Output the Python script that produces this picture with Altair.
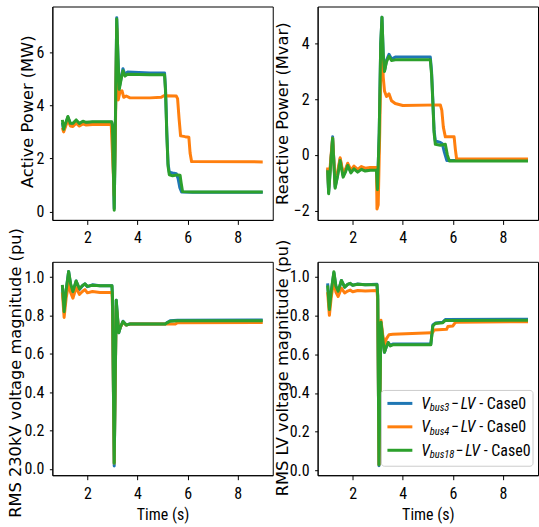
import altair as alt
import pandas as pd

# ---------------------------------------------------------------- data
TIME_TICKS = [2, 4, 6, 8]
COLORS = ["#1f77b4", "#ff7f0e", "#2ca02c"]          # bus3, bus4, bus18
LEGEND_SUBS = ["bus3", "bus4", "bus18"]

# Active power (MW)
p3_t = [1.0, 1.05, 1.12, 1.22, 1.32, 1.42, 1.55, 1.68, 1.82, 1.95, 2.2, 2.97, 3.0, 3.07, 3.12, 3.17, 3.22, 3.27, 3.35, 3.42,
        3.5, 3.6, 4.5, 5.08, 5.12, 5.17, 5.22, 5.27, 5.4, 5.55, 5.62, 5.69, 5.76, 6.2, 9.0]
p3_v = [3.35, 3.05, 3.25, 3.55, 3.3, 3.28, 3.42, 3.28, 3.38, 3.33, 3.36, 3.36, 3.25, 0.12, 3.5, 7.3, 5.8, 4.65, 5.05, 5.38,
        5.15, 5.25, 5.22, 5.22, 4.6, 3.0, 1.8, 1.48, 1.45, 1.42, 1.25, 0.9, 0.74, 0.73, 0.73]
p4_t = [1.0, 1.05, 1.12, 1.22, 1.32, 1.42, 1.55, 1.68, 1.82, 1.95, 2.2, 2.95, 3.0, 3.07, 3.12, 3.17, 3.23, 3.3, 3.38, 3.45,
        3.55, 3.7, 4.5, 4.95, 5.05, 5.55, 5.6, 5.66, 5.72, 5.9, 6.05, 6.1, 6.16, 9.0]
p4_v = [3.15, 3.0, 3.18, 3.45, 3.22, 3.2, 3.33, 3.22, 3.3, 3.26, 3.28, 3.28, 2.2, 0.6, 3.2, 6.9, 4.2, 4.5, 4.55, 4.3,
        4.35, 4.28, 4.28, 4.3, 4.36, 4.35, 4.25, 3.5, 2.85, 2.82, 2.8, 2.2, 1.88, 1.87]
p18_t = [1.0, 1.05, 1.12, 1.22, 1.32, 1.42, 1.55, 1.68, 1.82, 1.95, 2.2, 2.97, 3.0, 3.07, 3.12, 3.17, 3.22, 3.27, 3.35, 3.42,
         3.5, 3.6, 4.5, 5.08, 5.12, 5.17, 5.22, 5.27, 5.4, 5.6, 5.7, 5.74, 5.8, 6.2, 9.0]
p18_v = [3.45, 3.1, 3.3, 3.58, 3.32, 3.32, 3.45, 3.32, 3.4, 3.36, 3.38, 3.38, 3.2, 0.05, 3.6, 7.25, 5.8, 4.6, 5.0, 5.3,
         5.1, 5.17, 5.15, 5.15, 4.5, 2.9, 1.7, 1.38, 1.35, 1.38, 1.37, 1.1, 0.75, 0.74, 0.74]

# Reactive power (Mvar)
q3_t = [1.0, 1.04, 1.12, 1.2, 1.3, 1.4, 1.5, 1.62, 1.72, 1.8, 1.93, 2.05, 2.2, 2.35, 2.5, 2.7, 2.95, 2.99, 3.06, 3.12,
        3.17, 3.22, 3.27, 3.35, 3.45, 3.55, 3.7, 5.1, 5.15, 5.2, 5.25, 5.3, 5.5, 5.58, 5.66, 5.76, 9.0]
q3_v = [-0.5, -1.35, -0.3, 0.65, -1.15, -0.7, -0.15, -0.75, -0.55, -0.35, -0.62, -0.45, -0.6, -0.48, -0.55, -0.5, -0.52, -1.2, 0.8, 4.0,
        4.95, 3.6, 3.02, 3.4, 3.62, 3.45, 3.52, 3.52, 3.0, 2.0, 0.9, 0.5, 0.45, 0.4, 0.1, -0.2, -0.2]
q4_t = [1.0, 1.04, 1.12, 1.2, 1.3, 1.4, 1.5, 1.62, 1.72, 1.8, 1.93, 2.05, 2.2, 2.35, 2.5, 2.7, 2.95, 2.97, 3.02, 3.08,
        3.13, 3.17, 3.22, 3.27, 3.35, 3.45, 3.55, 3.7, 4.0, 5.5, 5.56, 5.62, 5.7, 6.05, 6.1, 6.15, 9.0]
q4_v = [-0.45, -1.2, -0.2, 0.6, -1.05, -0.6, -0.1, -0.68, -0.5, -0.3, -0.55, -0.4, -0.52, -0.42, -0.48, -0.45, -0.45, -1.95, -1.8, 0.8,
        3.6, 4.15, 2.8, 2.3, 2.1, 2.2, 1.95, 1.85, 1.78, 1.8, 1.6, 1.0, 0.65, 0.65, 0.2, -0.15, -0.15]
q18_t = [1.0, 1.04, 1.12, 1.2, 1.3, 1.4, 1.5, 1.62, 1.72, 1.8, 1.93, 2.05, 2.2, 2.35, 2.5, 2.7, 2.95, 2.99, 3.06, 3.12,
         3.17, 3.22, 3.27, 3.35, 3.45, 3.55, 3.7, 5.1, 5.15, 5.2, 5.25, 5.3, 5.5, 5.7, 5.78, 5.86, 9.0]
q18_v = [-0.55, -1.4, -0.35, 0.6, -1.2, -0.75, -0.2, -0.8, -0.6, -0.38, -0.65, -0.5, -0.62, -0.52, -0.58, -0.55, -0.55, -1.25, 0.8, 4.0,
         4.95, 3.6, 3.0, 3.35, 3.55, 3.4, 3.42, 3.42, 2.9, 1.9, 0.8, 0.38, 0.35, 0.38, 0.0, -0.22, -0.22]

# RMS 230 kV voltage magnitude (pu)
h3_t = [1.0, 1.07, 1.15, 1.25, 1.33, 1.42, 1.55, 1.68, 1.8, 1.9, 2.0, 2.2, 2.5, 2.98, 3.0, 3.07, 3.15, 3.25, 3.32, 3.42,
        3.55, 3.7, 5.1, 5.2, 5.3, 5.6, 9.0]
h3_v = [0.955, 0.83, 0.93, 1.03, 0.96, 0.92, 0.98, 0.935, 0.955, 0.965, 0.95, 0.96, 0.955, 0.955, 0.9, 0.015, 0.88, 0.71, 0.74, 0.77,
        0.75, 0.757, 0.755, 0.765, 0.772, 0.775, 0.777]
h4_t = [1.0, 1.07, 1.15, 1.25, 1.33, 1.42, 1.55, 1.68, 1.8, 1.9, 2.0, 2.2, 2.5, 2.98, 3.0, 3.07, 3.15, 3.25, 3.32, 3.42,
        3.55, 3.7, 5.5, 5.6, 9.0]
h4_v = [0.92, 0.79, 0.89, 0.97, 0.92, 0.89, 0.945, 0.91, 0.925, 0.935, 0.918, 0.925, 0.92, 0.92, 0.85, 0.03, 0.85, 0.72, 0.74, 0.765,
        0.75, 0.755, 0.755, 0.762, 0.763]
h18_t = h3_t
h18_v = [0.96, 0.82, 0.93, 1.03, 0.965, 0.925, 0.98, 0.94, 0.955, 0.965, 0.952, 0.958, 0.955, 0.955, 0.9, 0.03, 0.88, 0.71, 0.74, 0.768,
         0.75, 0.755, 0.755, 0.763, 0.77, 0.772, 0.772]

# RMS LV voltage magnitude (pu)
l3_t = [1.0, 1.07, 1.15, 1.25, 1.33, 1.42, 1.55, 1.68, 1.8, 1.9, 2.0, 2.2, 2.5, 2.97, 3.0, 3.05, 3.13, 3.2, 3.27, 3.35,
        3.42, 3.5, 3.6, 5.12, 5.2, 5.3, 5.6, 5.7, 9.0]
l3_v = [0.965, 0.84, 0.93, 1.02, 0.95, 0.92, 0.98, 0.945, 0.96, 0.965, 0.955, 0.962, 0.958, 0.96, 0.9, 0.025, 0.765, 0.68, 0.61, 0.64,
        0.66, 0.645, 0.652, 0.652, 0.75, 0.76, 0.765, 0.778, 0.78]
l4_t = [1.0, 1.07, 1.15, 1.25, 1.33, 1.42, 1.55, 1.68, 1.8, 1.9, 2.0, 2.2, 2.5, 2.97, 3.0, 3.05, 3.13, 3.2, 3.27, 3.35,
        3.45, 3.6, 5.15, 5.2, 5.25, 5.75, 5.8, 6.0, 6.05, 6.12, 9.0]
l4_v = [0.92, 0.80, 0.9, 0.98, 0.92, 0.897, 0.94, 0.915, 0.925, 0.93, 0.922, 0.928, 0.926, 0.928, 0.88, 0.03, 0.775, 0.7, 0.648, 0.68,
        0.70, 0.702, 0.71, 0.712, 0.725, 0.728, 0.742, 0.745, 0.755, 0.765, 0.767]
l18_t = l3_t
l18_v = [0.955, 0.83, 0.93, 1.025, 0.95, 0.925, 0.98, 0.945, 0.96, 0.965, 0.955, 0.96, 0.958, 0.958, 0.9, 0.03, 0.765, 0.68, 0.61, 0.64,
         0.66, 0.642, 0.648, 0.648, 0.745, 0.758, 0.762, 0.774, 0.775]

VOLT_TICKS = [0.0, 0.2, 0.4, 0.6, 0.8, 1.0]

# ---------------------------------------------------------------- styling
NARROW = "Roboto Condensed, DejaVu Sans Condensed, Liberation Sans"
TITLE_FONT = "DejaVu Sans"
FS = 16
W, H = 221, 214
X_DOMAIN = [0.6, 9.4]


def x_axis(title):
    return alt.Axis(values=TIME_TICKS, format="d", grid=False, tickSize=4.5, labelPadding=18.5,
                    labelBaseline="alphabetic", labelFont=NARROW, labelFontSize=FS, labelFlush=False,
                    title=title, titleFont=NARROW, titleFontSize=FS, titleFontWeight="normal",
                    titleBaseline="alphabetic", titleX=W / 2, titleY=44.5)


def y_axis(values, fmt, title, tx, ty):
    return alt.Axis(values=values, format=fmt, grid=False, tickSize=3, labelPadding=5.5,
                    labelFont=NARROW, labelFontSize=FS, labelBaseline="middle",
                    title=title, titleFont=TITLE_FONT, titleFontSize=16.3, titleFontWeight="normal",
                    titleAngle=270, titleBaseline="alphabetic", titleAlign="center", titleX=tx, titleY=ty)


def panel(series, y_domain, y_values, y_fmt, y_title, tx, ty, x_title="", extra=()):
    layers = []
    for (ts, vs), color in zip(series, COLORS):
        df = pd.DataFrame({"t": ts, "v": vs})
        layers.append(
            alt.Chart(df).mark_line(color=color, strokeWidth=3, strokeJoin="round", clip=True).encode(
                x=alt.X("t:Q", scale=alt.Scale(domain=X_DOMAIN, nice=False, zero=False), axis=x_axis(x_title)),
                y=alt.Y("v:Q", scale=alt.Scale(domain=y_domain, nice=False, zero=False),
                        axis=y_axis(y_values, y_fmt, y_title, tx, ty)),
            )
        )
    return alt.layer(*layers, *extra).properties(width=W, height=H)


def legend_layers():
    """Framed legend drawn in the lower-right panel (pixel offsets inside that panel)."""
    one = alt.InlineData(values=[{}])
    out = [
        alt.Chart(one).mark_rect(fill="white", fillOpacity=0.8, stroke="#cccccc", strokeWidth=1, cornerRadius=3)
        .encode(x=alt.value(64), x2=alt.value(216), y=alt.value(129), y2=alt.value(205))
    ]
    for i, (sub, color) in enumerate(zip(LEGEND_SUBS, COLORS)):
        ry = 142 + i * 23.5
        shift = 4.5 if len(sub) > 4 else 0.0
        out.append(alt.Chart(one).mark_rule(color=color, strokeWidth=3)
                   .encode(x=alt.value(70), x2=alt.value(95), y=alt.value(ry)))
        pieces = [
            ("V", 104, ry + 5.5, FS, "italic", "left"),
            (sub, 112.5, ry + 7.7, 10.5, "italic", "left"),
            ("\u2212", 134 + shift, ry + 5.5, FS, "normal", "left"),
            ("LV", 143.5 + shift, ry + 5.5, FS, "italic", "left"),
            ("-", 162 + shift, ry + 5.5, FS, "normal", "left"),
            ("Case0", 209 + shift, ry + 5.5, FS, "normal", "right"),
        ]
        for text, px, py, size, style, align in pieces:
            out.append(alt.Chart(one).mark_text(text=text, font=NARROW, fontSize=size, fontStyle=style,
                                                align=align, baseline="alphabetic", color="black")
                       .encode(x=alt.value(px), y=alt.value(py)))
    return out


top_left = panel([(p3_t, p3_v), (p4_t, p4_v), (p18_t, p18_v)], [-0.315, 7.72], [0, 2, 4, 6], "d",
                 "Active Power (MW)", -20, 105)
top_right = panel([(q3_t, q3_v), (q4_t, q4_v), (q18_t, q18_v)], [-2.34, 5.34], [-2, 0, 2, 4], "d",
                  "Reactive Power (Mvar)", -29.7, 107)
bottom_left = panel([(h3_t, h3_v), (h4_t, h4_v), (h18_t, h18_v)], [-0.033, 1.08], VOLT_TICKS, ".1f",
                    "RMS 230kV voltage magnitude (pu)", -31.5, 111, x_title="Time (s)")
bottom_right = panel([(l3_t, l3_v), (l4_t, l4_v), (l18_t, l18_v)], [-0.024, 1.076], VOLT_TICKS, ".1f",
                     "RMS LV voltage magnitude (pu)", -29.7, 106, x_title="Time (s)", extra=legend_layers())

chart = (
    alt.concat(top_left, top_right, bottom_left, bottom_right, columns=2,
               spacing={"row": 42, "column": 45}, bounds="flush")
    .properties(padding={"left": 6.5, "top": 4.8, "right": 0, "bottom": 0}, background="white")
    .configure_view(stroke="black", strokeWidth=1)
    .configure_axis(domainColor="black", tickColor="black", labelColor="black", titleColor="black",
                    domainWidth=1, tickWidth=1)
)

chart.save("out.html", embed_options={"renderer": "svg", "actions": False})
